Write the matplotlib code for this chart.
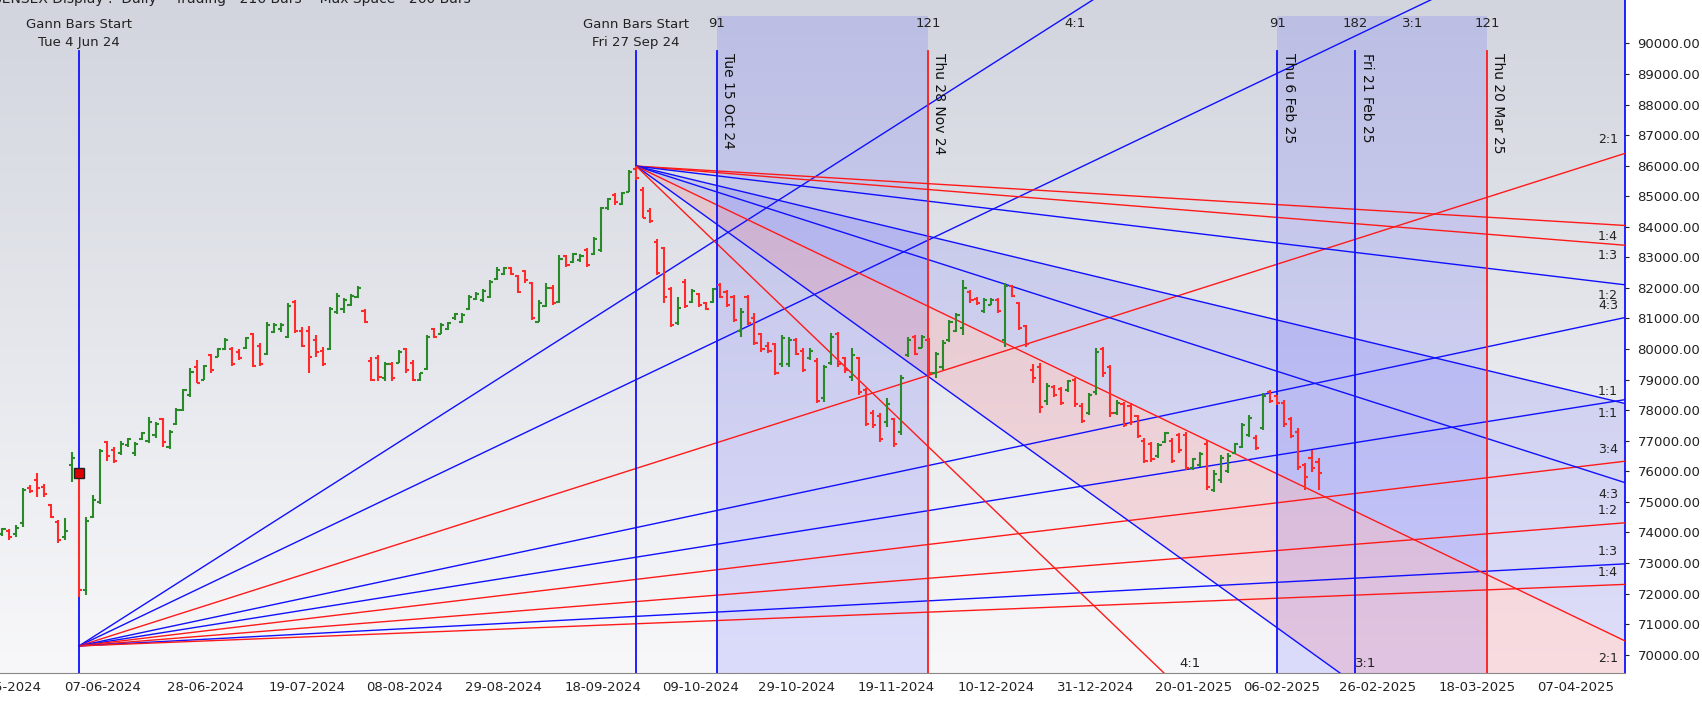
import numpy as np
import matplotlib
matplotlib.use("Agg")
import matplotlib.pyplot as plt
from matplotlib.collections import LineCollection
from matplotlib.colors import LinearSegmentedColormap

# ---------------- data ----------------
opens = [73950,74050,73950,74300,75450,75700,75500,74900,74350,73850,
         76200,76000,72100,74500,75000,76950,76700,76600,76850,76600,
         77050,77000,77200,77700,76800,77550,78000,78500,79400,79000,
         79800,79750,80000,80000,79900,80050,80500,80100,79850,80550,
         80650,80400,81550,80600,80600,80300,79950,80000,81200,81300,
         81450,81700,81250,79600,79700,79050,79500,79550,80000,79550,
         79000,79350,80650,80500,80650,81000,80900,81300,81650,81600,
         81700,82300,82450,82650,82400,82550,82150,80900,81400,82000,
         81550,83050,82850,82900,83250,83100,83250,84600,85050,84750,
         85150,85900,85200,84500,83500,83300,81950,80850,82200,81550,
         81800,81500,81550,82100,81850,81700,80600,81700,81000,80500,
         80100,80150,79500,79500,80300,79950,79700,79600,78400,79550,
         80500,79700,79100,79700,78650,77900,77800,77600,77700,77300,
         79800,80400,80050,80300,79200,79400,80300,80600,80700,81850,
         81650,81250,81450,81600,80300,82050,81500,80750,79300,79400,
         78300,78750,78700,78650,79000,78150,77900,78600,80000,79400,
         77900,78200,78150,77800,77000,76900,76500,76950,77000,77200,
         77200,76100,76200,76900,75400,75700,76000,76600,76800,77200,
         77100,77400,78600,78450,78250,77700,77300,76200,76450,76300]
highs = [74150,74120,74250,75460,75560,75950,75590,74930,74410,74470,
         76630,76100,74500,75220,76730,76990,76800,76990,77090,76960,
         77290,77780,77620,77750,77350,78070,78690,79380,79640,79480,
         79840,80030,80360,80070,80000,80390,80520,80190,80880,80850,
         80850,81510,81600,80720,80750,80460,80070,81380,81830,81670,
         81800,82060,81310,79740,79800,79570,79570,79970,80030,79640,
         79220,80460,80690,80850,80880,81180,81180,81770,81870,81960,
         82260,82690,82690,82690,82420,82580,82190,81600,82160,82100,
         83080,83080,83140,83110,83310,83670,84650,84940,85110,85140,
         85860,85985,85290,84610,83600,83340,82030,81700,82290,81960,
         81830,81540,81990,82160,81930,81770,81340,81770,81180,80520,
         80230,80200,80460,80390,80360,80030,80030,79700,79480,80520,
         80560,79740,80030,79740,78720,78000,77900,78390,77740,79150,
         80390,80460,80460,80350,79900,80300,80950,81180,82260,81930,
         81700,81670,81670,81670,82160,82100,81540,80790,79500,79540,
         78890,78820,78760,78990,79050,78230,78560,80030,80070,79480,
         78330,78260,78230,77840,77080,76960,76930,77290,77080,77250,
         77290,76430,76630,77020,76040,76530,76600,76930,77580,77840,
         77180,78560,78660,78490,78330,77770,77410,76270,76700,76430]
lows = [73890,73760,73860,74180,75300,75170,75170,74470,73650,73750,
        75650,71900,71950,74470,74930,76340,76270,76530,76800,76500,
        77030,76930,77090,76800,76730,77520,77970,78430,78890,78980,
        79220,79740,79970,79440,79640,80000,79410,79440,79800,80520,
        80550,80360,80520,80070,79220,79740,79440,79970,81140,81180,
        81400,81670,80850,78970,78970,78970,78970,79540,79220,78970,
        78970,79310,80360,80490,80620,80950,80850,81280,81600,81540,
        81670,82260,82420,82420,81830,82160,80950,80880,81380,81440,
        81510,82690,82820,82850,82690,83080,83180,84550,84710,84710,
        85140,85530,84280,84120,82420,81510,80720,80790,81340,81510,
        81380,81280,81510,81670,81380,80880,80390,80790,80130,79900,
        79870,79150,79410,79410,79800,79250,79640,78230,78270,79480,
        79410,79220,78970,78490,77470,77410,76950,77440,76800,77180,
        79740,79800,80030,79150,79050,79320,80230,80560,80460,81510,
        81440,81180,81440,81180,80070,81700,80620,80070,78900,77900,
        78170,78430,78170,78590,78100,77570,77840,78490,79090,77770,
        77840,77440,77510,77080,76270,76300,76430,76930,76270,76600,
        76040,76040,76140,75380,75320,75620,75940,76560,76760,77120,
        76700,77350,78230,78170,77440,77080,76040,75380,75980,75380]
closes = [74100,73850,74150,75400,75350,75450,75250,74500,73750,74050,
          76450,72100,74380,75050,76650,76500,76350,76900,77050,76900,
          77250,77600,77550,76950,77300,78000,78650,79250,78900,79450,
          79300,80000,80300,79500,79700,80350,79450,79500,80800,80800,
          80800,81400,80600,80100,79750,79900,79500,81300,81750,81600,
          81750,82000,80900,79000,79100,79500,79050,79900,79300,79000,
          79200,80400,80400,80800,80850,81150,81100,81700,81800,81900,
          82200,82600,82650,82450,81850,82250,81000,81500,82000,81500,
          82950,82750,83100,83050,82750,83600,84600,84900,84800,85100,
          85800,85600,84300,84200,82500,81700,80800,81350,81400,81900,
          81450,81300,81950,81700,81450,80950,81200,80850,80200,80000,
          79950,79200,80350,80300,79850,79300,79950,78300,79400,80400,
          79500,79300,79800,78600,77550,77500,77050,78200,76900,79050,
          80300,79850,80400,79200,79850,80200,80900,81100,82000,81600,
          81500,81600,81600,81250,82050,81750,80700,80150,79050,78100,
          78800,78500,78250,78950,78200,77650,78500,79900,79200,77900,
          78250,77500,77600,77150,76350,76400,76850,77250,76350,76700,
          76100,76400,76550,75500,75900,76450,76500,76900,77500,77750,
          76750,78450,78300,78250,77550,77150,76150,75800,76100,75950]

date_labels = ["16-05-2024","07-06-2024","28-06-2024","19-07-2024","08-08-2024",
               "29-08-2024","18-09-2024","09-10-2024","29-10-2024","19-11-2024",
               "10-12-2024","31-12-2024","20-01-2025","06-02-2025","26-02-2025",
               "18-03-2025","07-04-2025"]
date_pos = [0.1,14.45,29.2,43.7,57.8,72.0,86.3,100.3,114.1,128.4,142.7,157.0,
            171.1,183.7,197.4,211.8,225.9]

# Gann starts
low_start = (11, 70285)
high_start = (91, 85985)
rise_unit = 36.3     # points per bar for 1x1 (rising fan)
fall_unit = 54.7     # points per bar for 1x1 (falling fan)
rise_ratios = [("4:1",4,"b"),("3:1",3,"b"),("2:1",2,"r"),("4:3",4/3,"b"),("1:1",1,"b"),
               ("3:4",0.75,"r"),("1:2",0.5,"r"),("1:3",1/3,"b"),("1:4",0.25,"r")]
fall_ratios = [("1:4",0.25,"r"),("1:3",1/3,"r"),("1:2",0.5,"b"),("1:1",1,"b"),
               ("4:3",4/3,"b"),("2:1",2,"r"),("3:1",3,"b"),("4:1",4,"r")]

vlines = [(102.6,"Tue 15 Oct 24","b"),(132.9,"Thu 28 Nov 24","r"),
          (183.1,"Thu 6 Feb 25","b"),(194.3,"Fri 21 Feb 25","b"),(213.2,"Thu 20 Mar 25","r")]
count_labels = [(102.6,"91"),(132.9,"121"),(183.1,"91"),(194.3,"182"),(213.2,"121")]
shade_spans = [(102.6,132.9),(183.1,213.2)]

# ---------------- figure ----------------
BLUE = "#1010ff"; RED = "#ff1a1a"
col = {"b": BLUE, "r": RED}
fig = plt.figure(figsize=(17.02, 7.05), dpi=100)
ax = fig.add_axes([0, 32/705, 1625/1702, 1 - 32/705])
XMIN, XMAX = -0.34, 233.0
YMIN, YMAX = 69400, 91420
ax.set_xlim(XMIN, XMAX); ax.set_ylim(YMIN, YMAX)

grad = np.linspace(0, 1, 256).reshape(-1, 1)
cmap = LinearSegmentedColormap.from_list("bg", ["#d2d5de", "#f8f8fa"])
ax.imshow(grad, aspect="auto", cmap=cmap, extent=[XMIN, XMAX, YMIN, YMAX],
          origin="upper", zorder=0)

TOP_SHADE = 90890
LINE_TOP = 89750
for a, b in shade_spans:
    ax.fill_between([a, b], YMIN, TOP_SHADE, color="#5050ff", alpha=0.17, lw=0, zorder=1)

xf = np.linspace(high_start[0], XMAX, 300)
def fall(r): return high_start[1] - fall_unit * r * (xf - high_start[0])
ax.fill_between(xf, fall(1), fall(2), color="#5050ff", alpha=0.15, lw=0, zorder=1)
ax.fill_between(xf, fall(2), fall(3), color="#ff4050", alpha=0.15, lw=0, zorder=1)

xr = np.array([low_start[0], XMAX])
rise_lab_off = {"2:1": 5, "4:3": 4, "1:1": -5, "3:4": 4, "1:2": 4, "1:3": 4, "1:4": 4}
for name, r, c in rise_ratios:
    y = low_start[1] + rise_unit * r * (xr - low_start[0])
    ax.plot(xr, y, color=col[c], lw=1.0, zorder=3)
    if name in rise_lab_off:
        off = rise_lab_off[name]
        ax.annotate(name, (XMAX - 1, y[1]), xytext=(0, off), textcoords="offset points",
                    ha="right", va="bottom" if off > 0 else "top", fontsize=9, color="#222")
    else:
        xe = low_start[0] + (YMAX - low_start[1]) / (rise_unit * r)
        ax.text(xe - 2.5, 90640, name, ha="center", va="center", fontsize=9.5, color="#222")
xfl = np.array([high_start[0], XMAX])
fall_lab_off = {"1:4": -3, "1:3": -3, "1:2": -3, "1:1": 4, "4:3": -4, "2:1": -8}
for name, r, c in fall_ratios:
    y = high_start[1] - fall_unit * r * (xfl - high_start[0])
    ax.plot(xfl, y, color=col[c], lw=1.0, zorder=3)
    if name in fall_lab_off:
        off = fall_lab_off[name]
        ax.annotate(name, (XMAX - 1, y[1]), xytext=(0, off), textcoords="offset points",
                    ha="right", va="bottom" if off > 0 else "top", fontsize=9, color="#222")
    else:
        xe = high_start[0] + (high_start[1] - YMIN) / (fall_unit * r)
        ax.text(xe + 3.7, 69720, name, ha="center", va="center", fontsize=9.5, color="#222")

for x, lab, c in vlines:
    ax.plot([x, x], [YMIN, LINE_TOP], color=col[c], lw=1.3, zorder=4)
    ax.text(x + 0.6, LINE_TOP - 60, lab, rotation=270, ha="left", va="top",
            fontsize=10, color="#111", zorder=6)
for x, lab in count_labels:
    ax.text(x, 90640, lab, ha="center", va="center", fontsize=9.5, color="#222", zorder=6)
for x, lab in [(low_start[0], "Tue 4 Jun 24"), (high_start[0], "Fri 27 Sep 24")]:
    ax.plot([x, x], [YMIN, LINE_TOP], color=BLUE, lw=1.3, zorder=4)
    ax.text(x, LINE_TOP + 80, "Gann Bars Start\n" + lab, ha="center", va="bottom",
            fontsize=9.5, color="#222", linespacing=1.5, zorder=6)

idx = np.arange(len(closes))
segs, cols = [], []
for i in idx:
    c = "#2a8a2a" if closes[i] >= opens[i] else "#ff2a2a"
    segs += [[(i, lows[i]), (i, highs[i])], [(i - 0.45, opens[i]), (i, opens[i])],
             [(i, closes[i]), (i + 0.45, closes[i])]]
    cols += [c, c, c]
ax.add_collection(LineCollection(segs, colors=cols, linewidths=1.5, zorder=5))
ax.plot([low_start[0]], [75950], marker="s", ms=7, mfc="#dd0000", mec="#222", zorder=7)

ax.yaxis.tick_right()
ax.set_yticks(np.arange(70000, 90001, 1000))
ax.set_yticklabels([f"{v:.2f}" for v in range(70000, 90001, 1000)], fontsize=9.5)
ax.tick_params(axis="y", length=3, pad=6, colors="#222")
ax.set_xticks(date_pos)
ax.set_xticklabels(date_labels, fontsize=9.5)
ax.tick_params(axis="x", length=0, pad=6, colors="#222")
for s in ["top", "left"]:
    ax.spines[s].set_visible(False)
ax.spines["right"].set_color(BLUE); ax.spines["right"].set_linewidth(1.3)
ax.spines["bottom"].set_color("#888")

fig.text(-0.004, 1.002, "SENSEX Display :  Daily  - Trading - 216 Bars -  Max Space - 260 Bars",
         ha="left", va="center", fontsize=10, color="#222")
fig.savefig("out.png", dpi=100)
